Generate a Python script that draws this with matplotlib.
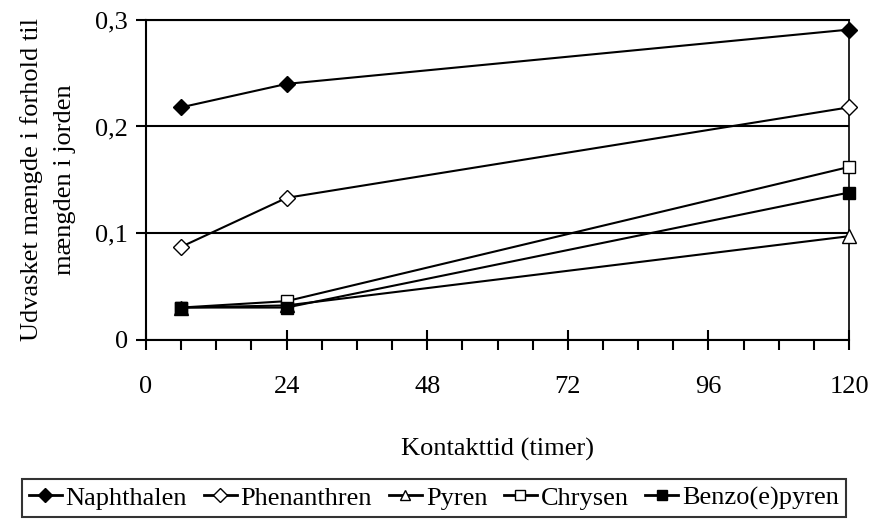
import matplotlib
matplotlib.use("Agg")
import matplotlib.pyplot as plt
from matplotlib.ticker import MultipleLocator, FuncFormatter

hours = [6, 24, 120]
naphthalen = [0.218, 0.240, 0.291]
phenanthren = [0.087, 0.133, 0.218]
pyren = [0.030, 0.032, 0.097]
chrysen = [0.030, 0.036, 0.162]
benzo_e_pyren = [0.030, 0.030, 0.138]

series = [
    ("Naphthalen", naphthalen, "D", "black", 8.5),
    ("Phenanthren", phenanthren, "D", "white", 8.5),
    ("Pyren", pyren, "^", "white", 9.5),
    ("Chrysen", chrysen, "s", "white", 9),
    ("Benzo(e)pyren", benzo_e_pyren, "s", "black", 9),
]

plt.rcParams["font.family"] = ["Liberation Serif", "DejaVu Serif"]
FS = 19

fig = plt.figure(figsize=(8.7, 5.22), dpi=100)
ax = fig.add_axes([146 / 870, 1 - 339.5 / 522, (849 - 146) / 870, (339.5 - 20) / 522])

for name, vals, marker, face, ms in series:
    ax.plot(hours, vals, color="black", lw=1.5, marker=marker, markersize=ms,
            markerfacecolor=face, markeredgecolor="black", markeredgewidth=1.0,
            label=name, zorder=3, clip_on=False)

ax.set_xlim(0, 120)
ax.set_ylim(0, 0.3)
ax.xaxis.set_major_locator(MultipleLocator(24))
ax.xaxis.set_minor_locator(MultipleLocator(6))
ax.yaxis.set_major_locator(MultipleLocator(0.1))
ax.yaxis.set_major_formatter(FuncFormatter(lambda v, p: "0" if abs(v) < 1e-9 else f"{v:.1f}".replace(".", ",")))

ax.grid(axis="y", color="black", lw=1.5)
ax.set_axisbelow(True)
for s in ax.spines.values():
    s.set_linewidth(1.5)
ax.spines["right"].set_linewidth(1.2)

ax.tick_params(axis="x", which="major", direction="inout", length=14, width=1.5,
               labelsize=FS, pad=19)
ax.tick_params(axis="x", which="minor", direction="out", length=7, width=1.5)
ax.tick_params(axis="y", which="major", direction="out", length=7, width=1.5,
               labelsize=FS, pad=6)

ax.set_xlabel("Kontakttid (timer)", fontsize=FS, labelpad=29)
ax.set_ylabel("Udvasket mængde i forhold til\nmængden i jorden", fontsize=FS,
              labelpad=14, linespacing=1.6)

leg = fig.legend(loc="center", bbox_to_anchor=(434 / 870, 1 - 498 / 522), ncol=5,
                 fontsize=FS, frameon=True, fancybox=False, edgecolor="black",
                 handlelength=1.25, handletextpad=0.15, columnspacing=0.63,
                 borderpad=0.25, borderaxespad=0, markerscale=0.8)
leg.get_frame().set_linewidth(1.5)
for line in leg.get_lines():
    line.set_linewidth(2)

fig.savefig("out.png", dpi=100)
